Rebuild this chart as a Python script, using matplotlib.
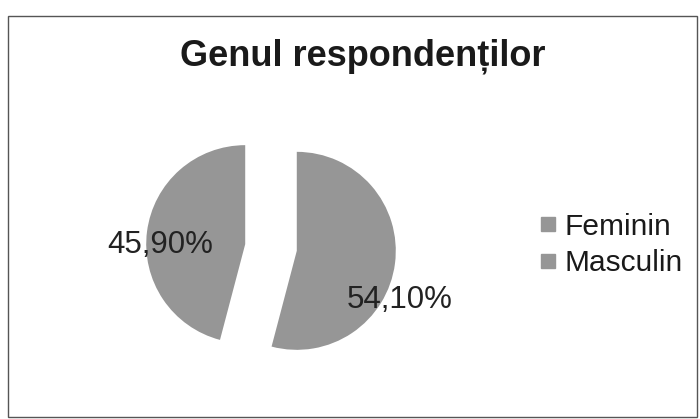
import matplotlib
matplotlib.use("Agg")
import matplotlib.pyplot as plt
from matplotlib.lines import Line2D
from matplotlib.patches import Rectangle

title = "Genul respondenților"
categories = ["Feminin", "Masculin"]
values = [54.10, 45.90]
value_labels = ["54,10%", "45,90%"]

W, H = 700, 419
fig = plt.figure(figsize=(W / 100, H / 100), dpi=100)
fig.patch.set_facecolor("white")
plt.rcParams['font.family'] = ['Liberation Sans', 'DejaVu Sans']

ax = fig.add_axes([0, 0, 1, 1])
gray = "#969696"
wedges, _ = ax.pie(values, colors=[gray, gray], startangle=90, counterclock=False,
                   explode=[0.26, 0.26], radius=0.99, center=(2.71, (H - 247.5) / 100))
ax.set_xlim(0, W / 100)
ax.set_ylim(0, H / 100)
ax.set_aspect("equal")
ax.axis("off")

# data labels (best-fit positions, in pixel coords of the figure)
label_pos = [(400, 300), (160, 245)]
for lab, (px, py) in zip(value_labels, label_pos):
    ax.text(px / 100, (H - py) / 100, lab, ha="center", va="center",
            fontsize=22.5, color="#222222")

fig.text(363 / W, 1 - 56 / H, title, ha="center", va="center",
         fontsize=26, fontweight="bold", color="#1a1a1a")

handles = [Line2D([], [], marker="s", linestyle="", color=gray, markersize=10)
           for _ in categories]
leg = fig.legend(handles, categories, loc="center left",
                 bbox_to_anchor=(538 / W, 1 - 245 / H), frameon=False,
                 fontsize=21.5, handlelength=0.7, handletextpad=0.2,
                 labelspacing=0.3, borderpad=0, borderaxespad=0)
for t in leg.get_texts():
    t.set_color("#1a1a1a")

fig.patches.append(Rectangle((8 / W, 2 / H), 689 / W, (417 - 16) / H,
                             transform=fig.transFigure, fill=False,
                             edgecolor="#555555", linewidth=1))

fig.savefig("out.png", dpi=100, facecolor="white")
